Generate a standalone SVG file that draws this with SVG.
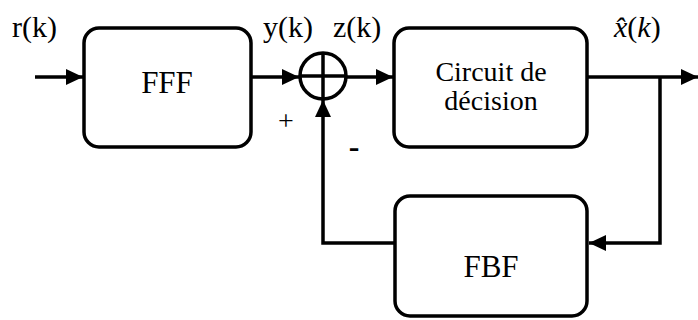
<svg xmlns="http://www.w3.org/2000/svg" width="698" height="320" viewBox="0 0 698 320">
<style>
.box{fill:#ffffff;stroke:#000000;stroke-width:3.5}
.ln{fill:none;stroke:#000000;stroke-width:3.5}
text{font-family:'Liberation Serif','DejaVu Serif',serif;fill:#000000}
</style>
<defs>
<marker id="ah" markerUnits="userSpaceOnUse" markerWidth="18" markerHeight="16" refX="17" refY="8" orient="auto">
<path d="M0,0 L17,8 L0,16 z" fill="#000000"/>
</marker>
</defs>
<g id="connectors">
<line class="ln" x1="35" y1="77" x2="83" y2="77" marker-end="url(#ah)"/>
<line class="ln" x1="252" y1="77" x2="299" y2="77" marker-end="url(#ah)"/>
<line class="ln" x1="346" y1="77" x2="393" y2="77" marker-end="url(#ah)"/>
<line class="ln" x1="588" y1="77" x2="698" y2="77" marker-end="url(#ah)"/>
<polyline class="ln" points="660,77 660,243 589,243" marker-end="url(#ah)"/>
<polyline class="ln" points="394,243 323,243 323,100" marker-end="url(#ah)"/>
</g>
<g id="FFF">
<rect class="box" x="84" y="28" width="167" height="119" rx="15"/>
<text font-family="Liberation Serif, serif" x="167" y="93" font-size="31" text-anchor="middle">FFF</text>
</g>
<g id="sum">
<circle class="ln" cx="323" cy="76" r="23"/>
<line class="ln" x1="300" y1="76" x2="346" y2="76"/>
<line class="ln" x1="323" y1="53" x2="323" y2="99"/>
</g>
<g id="decision">
<rect class="box" x="394" y="28" width="193" height="119" rx="15"/>
<text font-family="Liberation Serif, serif" x="491" y="81" font-size="28" text-anchor="middle">Circuit de</text>
<text font-family="Liberation Serif, serif" x="491" y="110" font-size="28" text-anchor="middle">décision</text>
</g>
<g id="FBF">
<rect class="box" x="395" y="196" width="192" height="120" rx="15"/>
<text font-family="Liberation Serif, serif" x="491" y="277" font-size="31" text-anchor="middle">FBF</text>
</g>
<g id="labels">
<text font-family="Liberation Serif, serif" x="12" y="37" font-size="30">r(k)</text>
<text font-family="Liberation Serif, serif" x="263" y="37" font-size="30">y(k)</text>
<text font-family="Liberation Serif, serif" x="333" y="37" font-size="30">z(k)</text>
<text font-family="Liberation Serif, serif" x="286" y="130" font-size="28" text-anchor="middle">+</text>
<text font-family="Liberation Serif, serif" x="354" y="157" font-size="32" font-weight="bold" text-anchor="middle">-</text>
<text font-family="Liberation Serif, serif" x="614" y="37" font-size="30"><tspan font-style="italic">x̂</tspan>(<tspan font-style="italic">k</tspan>)</text>
</g>
</svg>
